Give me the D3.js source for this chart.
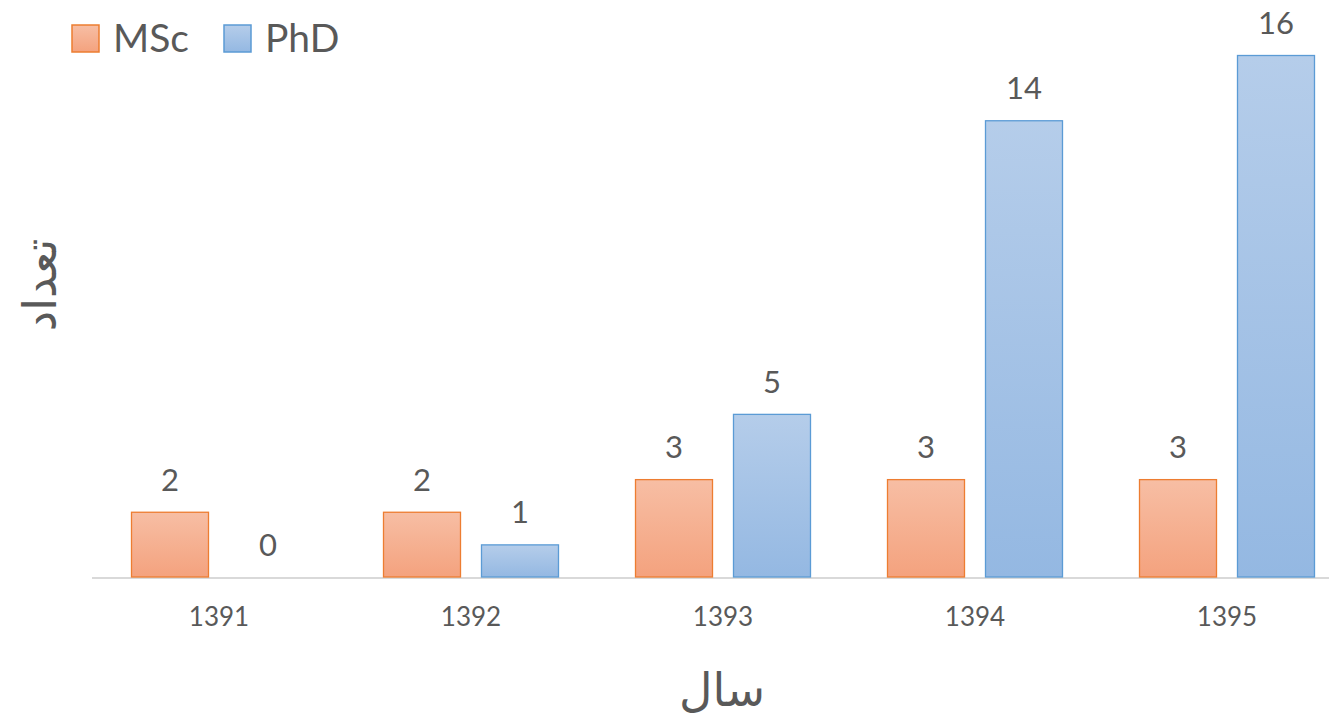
<!DOCTYPE html>
<html>
<head>
<meta charset="utf-8">
<script src="https://cdn.jsdelivr.net/npm/d3@7"></script>
<style>
  body { margin: 0; background: #fff; }
  text { font-family: Lato, "Open Sans", sans-serif; fill: #595959; }
  .title { font-family: "DejaVu Sans", sans-serif; }
</style>
</head>
<body>
<svg id="chart" width="1329" height="725"></svg>
<script>
const years = ['1391', '1392', '1393', '1394', '1395'];
const series = ['MSc', 'PhD'];
const msc = [2, 2, 3, 3, 3];
const phd = [0, 1, 5, 14, 16];

const WIDTH = 1329;
const HEIGHT = 725;
const BASELINE = 577;

const svg = d3.select('#chart');
const defs = svg.append('defs');

const colors = {
  MSc: { top: '#f7bea4', bottom: '#f4a27e', stroke: '#ed7d31' },
  PhD: { top: '#b5cdea', bottom: '#94b8e2', stroke: '#5b9bd5' },
};

series.forEach((s) => {
  const g = defs.append('linearGradient')
    .attr('id', 'grad-' + s)
    .attr('x1', 0).attr('y1', 0)
    .attr('x2', 0).attr('y2', 1);
  g.append('stop').attr('offset', '0%').attr('stop-color', colors[s].top);
  g.append('stop').attr('offset', '100%').attr('stop-color', colors[s].bottom);
});

const x0 = d3.scaleBand()
  .domain(years)
  .range([93, 1353]);

const x1 = d3.scaleBand()
  .domain(series)
  .range([38, 214])
  .paddingInner(0.204);

const y = d3.scaleLinear()
  .domain([0, 16])
  .range([BASELINE, 55]);

const rows = years.map((yr, i) => ({ year: yr, values: [
  { key: 'MSc', value: msc[i] },
  { key: 'PhD', value: phd[i] },
] }));

// axis line
svg.append('line')
  .attr('x1', 92)
  .attr('x2', WIDTH)
  .attr('y1', BASELINE + 1)
  .attr('y2', BASELINE + 1)
  .attr('stroke', '#d9d9d9')
  .attr('stroke-width', 2);

const groups = svg.append('g')
  .selectAll('g')
  .data(rows)
  .enter()
    .append('g')
    .attr('transform', (d) => `translate(${x0(d.year)},0)`);

groups.selectAll('rect')
  .data((d) => d.values.filter((v) => v.value > 0))
  .enter()
    .append('rect')
    .attr('x', (d) => x1(d.key) + 0.5)
    .attr('y', (d) => y(d.value) + 0.5)
    .attr('width', x1.bandwidth() - 1)
    .attr('height', (d) => BASELINE - y(d.value) - 0.5)
    .attr('fill', (d) => `url(#grad-${d.key})`)
    .attr('stroke', (d) => colors[d.key].stroke)
    .attr('stroke-width', 1.3);

groups.selectAll('text.label')
  .data((d) => d.values)
  .enter()
    .append('text')
    .classed('label', true)
    .attr('x', (d) => x1(d.key) + x1.bandwidth() / 2)
    .attr('y', (d) => y(d.value) - 21)
    .attr('text-anchor', 'middle')
    .style('font-size', '31px')
    .text((d) => d.value);

// x axis tick labels
const xAxis = svg.append('g')
  .attr('transform', `translate(0,${BASELINE})`)
  .call(d3.axisBottom(x0).tickSize(0).tickPadding(31));
xAxis.select('.domain').remove();
xAxis.selectAll('text')
  .style('font-size', '26px')
  .style('font-family', 'Lato, "Open Sans", sans-serif')
  .attr('fill', '#595959');

// axis titles
svg.append('text')
  .classed('title', true)
  .attr('x', 722)
  .attr('y', 706)
  .attr('text-anchor', 'middle')
  .style('font-size', '46px')
  .text('سال');

svg.append('text')
  .classed('title', true)
  .attr('transform', 'translate(56,285) rotate(-90)')
  .attr('text-anchor', 'middle')
  .style('font-size', '46px')
  .text('تعداد');

// legend
const legend = svg.append('g')
  .selectAll('g')
  .data(series)
  .enter()
    .append('g')
    .attr('transform', (d, i) => `translate(${[72, 224][i]},25)`);

legend.append('rect')
  .attr('width', 27)
  .attr('height', 27)
  .attr('fill', (d) => `url(#grad-${d})`)
  .attr('stroke', (d) => colors[d].stroke)
  .attr('stroke-width', 1.5);

legend.append('text')
  .attr('x', 41)
  .attr('y', 27)
  .style('font-size', '39px')
  .text((d) => d);
</script>
</body>
</html>
